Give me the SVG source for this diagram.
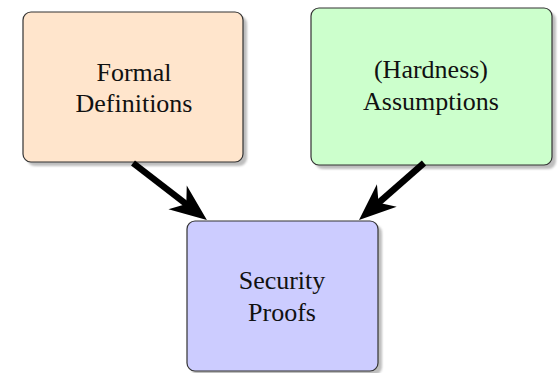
<svg xmlns="http://www.w3.org/2000/svg" width="558" height="373" viewBox="0 0 558 373">
<defs>
<style>
.box{stroke:#333;stroke-width:1.2}
.shadow{fill:#888;opacity:0.55}
.lbl{font-size:26px;fill:#111;text-anchor:middle}
.edge{stroke:#000;stroke-width:6.5;fill:none}
</style>
<filter id="blur" x="-10%" y="-10%" width="120%" height="120%"><feGaussianBlur stdDeviation="1.2"/></filter>
<marker id="head" markerUnits="userSpaceOnUse" markerWidth="40" markerHeight="34" viewBox="-1 -17 40 34" refX="12" refY="0" orient="auto">
<path d="M0,-15 L37,0 L0,15 L11,0 Z" fill="#000"/>
</marker>
</defs>
<rect width="558" height="373" fill="#fff"/>
<g id="formal" font-family="'Liberation Serif', 'DejaVu Serif', serif">
<rect class="shadow" filter="url(#blur)" x="27" y="16" width="220" height="150" rx="8"/>
<rect class="box" x="23" y="12" width="220" height="150" rx="8" fill="#FFE5CC"/>
<text class="lbl" x="134" y="81">Formal</text>
<text class="lbl" x="134" y="112">Definitions</text>
</g>
<g id="assumptions" font-family="'Liberation Serif', 'DejaVu Serif', serif">
<rect class="shadow" filter="url(#blur)" x="315" y="12" width="241" height="157" rx="8"/>
<rect class="box" x="311" y="8" width="241" height="157" rx="8" fill="#CCFFCC"/>
<text class="lbl" x="431" y="78">(Hardness)</text>
<text class="lbl" x="431" y="110">Assumptions</text>
</g>
<g id="proofs" font-family="'Liberation Serif', 'DejaVu Serif', serif">
<rect class="shadow" filter="url(#blur)" x="191" y="225" width="191" height="150" rx="8"/>
<rect class="box" x="187" y="221" width="191" height="150" rx="8" fill="#CCCCFF"/>
<text class="lbl" x="282" y="289">Security</text>
<text class="lbl" x="282" y="321">Proofs</text>
</g>
<g id="connectors">
<path class="edge" d="M133,163 L187.1,204.7" marker-end="url(#head)"/>
<path class="edge" d="M424,163 L377.8,203.5" marker-end="url(#head)"/>
</g>
</svg>
